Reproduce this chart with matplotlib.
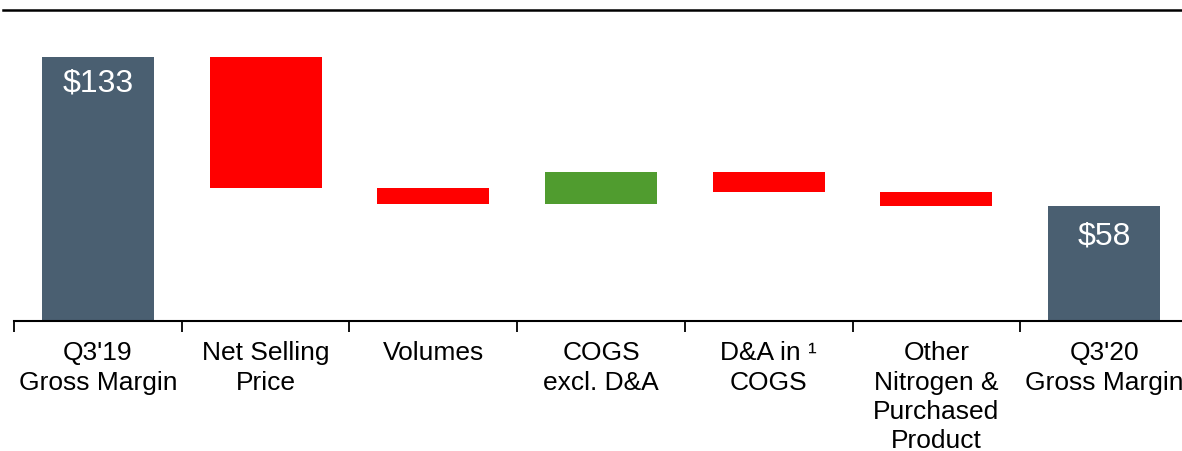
import matplotlib
matplotlib.use("Agg")
import matplotlib.pyplot as plt
from matplotlib.lines import Line2D
import numpy as np

# DATA
categories = ["Q3'19\nGross Margin", "Net Selling\nPrice", "Volumes",
              "COGS\nexcl. D&A", "D&A in \u00b9\nCOGS",
              "Other\nNitrogen &\nPurchased\nProduct", "Q3'20\nGross Margin"]
start_total = 133
changes = [-66, -8, 16, -10, -7]
end_total = 58

# STYLE
SLATE = "#4A5F71"
RED = "#FF0000"
GREEN = "#509C2F"

plt.rcParams.update({
    "font.family": ["Liberation Sans", "DejaVu Sans"],
})

fig = plt.figure(figsize=(11.82, 4.52), dpi=100)
ax = fig.add_axes([14 / 1182, 130 / 452, 1174 / 1182, 312 / 452])

x = np.arange(len(categories))
width = 0.667

# totals
ax.bar(x[0], start_total, width=width, color=SLATE)
ax.bar(x[-1], end_total, width=width, color=SLATE)

# floating changes
level = start_total
for i, d in enumerate(changes, start=1):
    bottom = level + min(d, 0)
    ax.bar(x[i], abs(d), bottom=bottom, width=width,
           color=GREEN if d > 0 else RED)
    level += d

ax.text(x[0], start_total - 13, f"${start_total}", ha="center", va="center",
        color="white", fontsize=23)
ax.text(x[-1], end_total - 15, f"${end_total}", ha="center", va="center",
        color="white", fontsize=23)

ax.set_xlim(-0.5, len(categories) - 0.5)
ax.set_ylim(0, 157)
for s in ["top", "right", "left"]:
    ax.spines[s].set_visible(False)
ax.spines["bottom"].set_linewidth(1.5)
ax.set_yticks([])
ax.set_xticks(x)
ax.set_xticklabels(categories, fontsize=19, linespacing=1.27)
ax.tick_params(axis="x", which="major", length=0, pad=14)
ax.set_xticks(np.arange(-0.5, len(categories), 1.0), minor=True)
ax.tick_params(axis="x", which="minor", length=8, width=1.3, direction="out")

# top rule
fig.add_artist(Line2D([3 / 1182, 1.0], [441 / 452, 441 / 452],
                      color="black", linewidth=1.8))

fig.savefig("out.png", dpi=100)
